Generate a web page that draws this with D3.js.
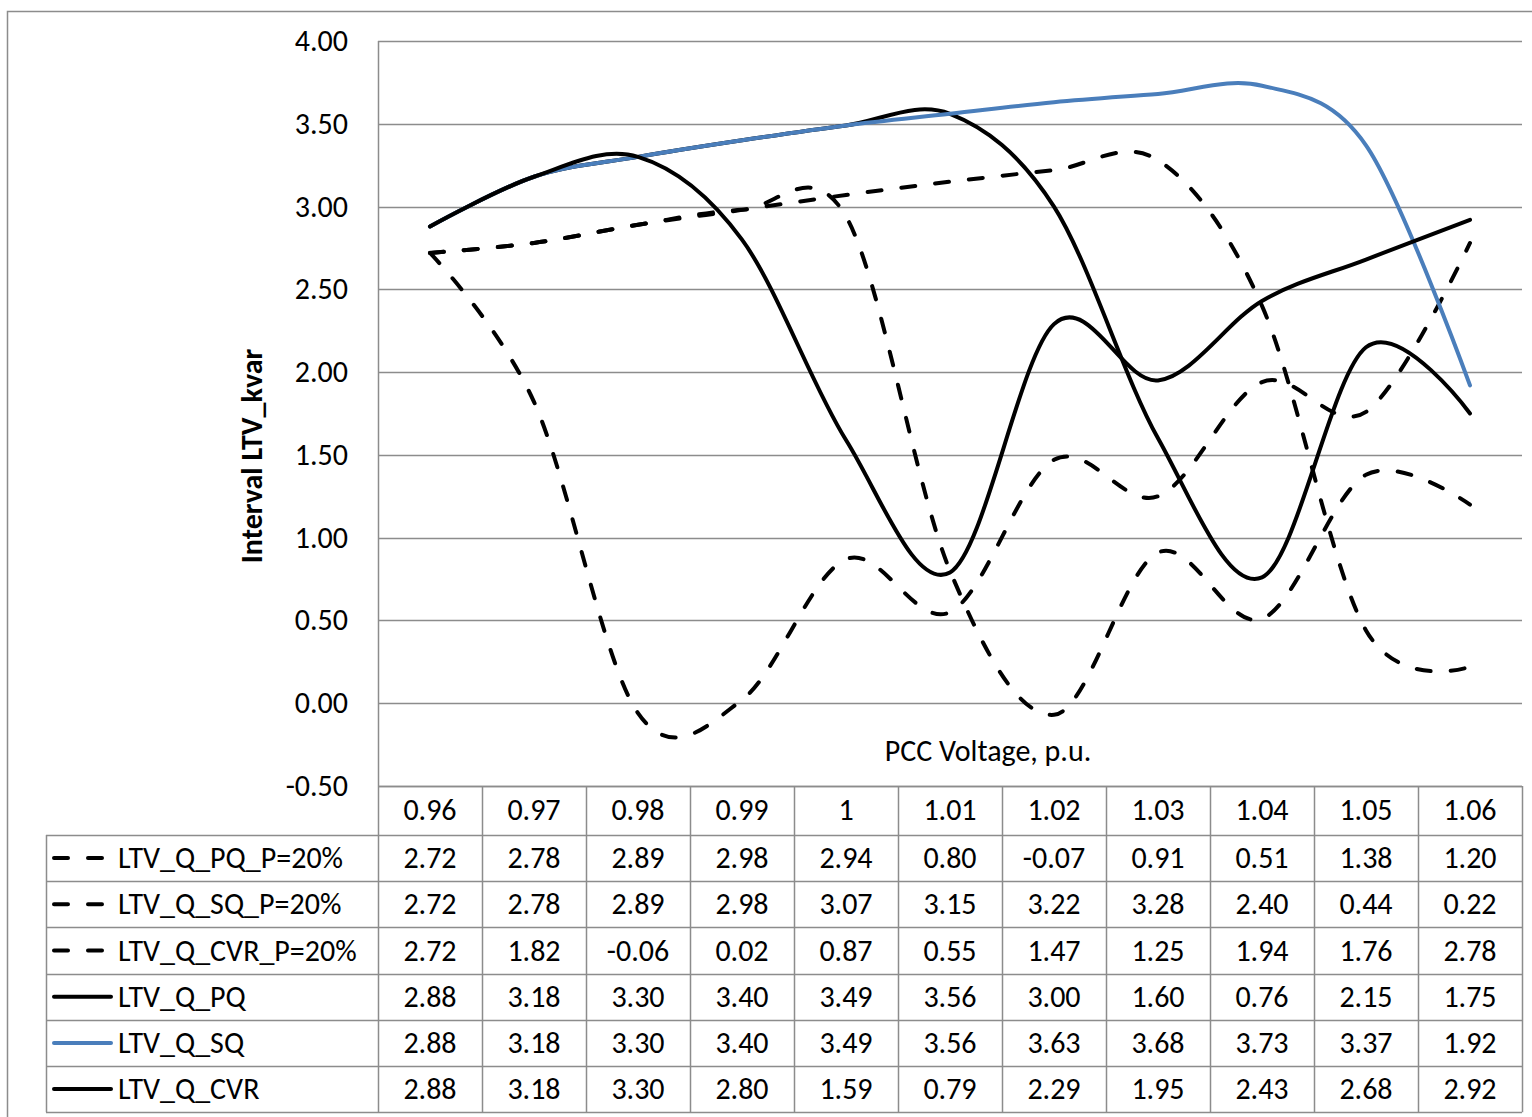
<!DOCTYPE html>
<html>
<head>
<meta charset="utf-8">
<script src="https://cdn.jsdelivr.net/npm/d3@7"></script>
<style>
body { margin: 0; background: #fff; }
text { font-family: Carlito, "Noto Sans", sans-serif; fill: #000; }
</style>
</head>
<body>
<div id="chart"></div>
<script>
var categories = ["0.96","0.97","0.98","0.99","1","1.01","1.02","1.03","1.04","1.05","1.06"];
var seriesNames = ["LTV_Q_PQ_P=20%","LTV_Q_SQ_P=20%","LTV_Q_CVR_P=20%","LTV_Q_PQ","LTV_Q_SQ","LTV_Q_CVR"];
var pqP20  = [2.72,2.78,2.89,2.98,2.94,0.80,-0.07,0.91,0.51,1.38,1.20];
var sqP20  = [2.72,2.78,2.89,2.98,3.07,3.15,3.22,3.28,2.40,0.44,0.22];
var cvrP20 = [2.72,1.82,-0.06,0.02,0.87,0.55,1.47,1.25,1.94,1.76,2.78];
var pq     = [2.88,3.18,3.30,3.40,3.49,3.56,3.00,1.60,0.76,2.15,1.75];
var sq     = [2.88,3.18,3.30,3.40,3.49,3.56,3.63,3.68,3.73,3.37,1.92];
var cvr    = [2.88,3.18,3.30,2.80,1.59,0.79,2.29,1.95,2.43,2.68,2.92];
var yTicks = [-0.5,0,0.5,1,1.5,2,2.5,3,3.5,4];
var seriesColors = ["#000","#000","#000","#000","#4a7ebb","#000"];
var seriesDashed = [true,true,true,false,false,false];

(function () {
var width = 1532, height = 1117;
var fs = 30;
var svg = d3.select("#chart").append("svg")
  .attr("width", width).attr("height", height);

var allSeries = [pqP20, sqP20, cvrP20, pq, sq, cvr];
var fmt = function(d){ return d.toFixed(2) };

// outer chart border
svg.append("rect")
  .attr("x", 7.5).attr("y", 11.5)
  .attr("width", 1540).attr("height", 1120)
  .attr("fill", "none").attr("stroke", "#8c8c8c").attr("stroke-width", 1.5);

var left = 378, right = 1522, top = 41, bottom = 786;
var x = d3.scaleBand().domain(categories).range([left, right]);
var y = d3.scaleLinear().domain([-0.5, 4]).range([bottom, top]);

// gridlines
svg.selectAll(".grid").data(yTicks).enter().append("line")
  .attr("x1", left).attr("x2", right)
  .attr("y1", function(d){ return Math.round(y(d)) + 0.5 })
  .attr("y2", function(d){ return Math.round(y(d)) + 0.5 })
  .attr("stroke", "#8c8c8c").attr("stroke-width", 1.5);

svg.append("line")
  .attr("x1", left + 0.5).attr("x2", left + 0.5)
  .attr("y1", top).attr("y2", bottom)
  .attr("stroke", "#8c8c8c").attr("stroke-width", 1.5);

// y tick labels
svg.selectAll(".ytick").data(yTicks).enter().append("text")
  .attr("x", 348)
  .attr("y", function(d){ return y(d) + 10 })
  .attr("text-anchor", "end")
  .attr("font-size", fs)
  .text(fmt);

// axis titles
svg.append("text")
  .attr("transform", "translate(262,456) rotate(-90)")
  .attr("text-anchor", "middle")
  .attr("font-size", fs).attr("font-weight", "bold")
  .text("Interval LTV_kvar");

svg.append("text")
  .attr("x", 988).attr("y", 761)
  .attr("text-anchor", "middle")
  .attr("font-size", fs)
  .text("PCC Voltage, p.u.");

// lines
var line = d3.line()
  .x(function(d, i){ return x(categories[i]) + x.bandwidth() / 2 })
  .y(function(d){ return y(d) })
  .curve(d3.curveCardinal.tension(0));

svg.selectAll(".series").data(allSeries).enter().append("path")
  .attr("d", line)
  .attr("fill", "none")
  .attr("stroke", function(d, i){ return seriesColors[i] })
  .attr("stroke-width", 4)
  .attr("stroke-linecap", "round")
  .attr("stroke-linejoin", "round")
  .attr("stroke-dasharray", function(d, i){ return seriesDashed[i] ? "14,20" : null });

// data table
var rowH = 46.2, headTop = 786, headBot = 835;
var legLeft = 46;
var tbl = svg.append("g");
var tableBottom = headBot + 6 * rowH;

tbl.append("line").attr("x1", left).attr("x2", right).attr("y1", headTop + 0.5).attr("y2", headTop + 0.5);
d3.range(7).forEach(function(i){
  var yy = Math.round(headBot + i * rowH) + 0.5;
  tbl.append("line").attr("x1", legLeft).attr("x2", right).attr("y1", yy).attr("y2", yy);
});
tbl.append("line").attr("x1", legLeft + 0.5).attr("x2", legLeft + 0.5).attr("y1", headBot).attr("y2", tableBottom);
categories.forEach(function(c){
  var xx = Math.round(x(c)) + 0.5;
  tbl.append("line").attr("x1", xx).attr("x2", xx).attr("y1", headTop).attr("y2", tableBottom);
});
tbl.append("line").attr("x1", right + 0.5).attr("x2", right + 0.5).attr("y1", headTop).attr("y2", tableBottom);
tbl.selectAll("line").attr("stroke", "#8c8c8c").attr("stroke-width", 1.5);

// header labels
svg.selectAll(".cat").data(categories).enter().append("text")
  .attr("x", function(d){ return x(d) + x.bandwidth() / 2 })
  .attr("y", headBot - 15)
  .attr("text-anchor", "middle")
  .attr("font-size", fs)
  .text(function(d){ return d });

// rows
allSeries.forEach(function(s, si){
  var cy = headBot + si * rowH + rowH / 2;
  svg.selectAll(".cell" + si).data(s).enter().append("text")
    .attr("x", function(d, i){ return x(categories[i]) + x.bandwidth() / 2 })
    .attr("y", cy + 10)
    .attr("text-anchor", "middle")
    .attr("font-size", fs)
    .text(fmt);

  svg.append("line")
    .attr("x1", 54).attr("x2", seriesDashed[si] ? 110 : 111)
    .attr("y1", cy).attr("y2", cy)
    .attr("stroke", seriesColors[si])
    .attr("stroke-width", 4)
    .attr("stroke-linecap", "round")
    .attr("stroke-dasharray", seriesDashed[si] ? "14,20" : null);

  svg.append("text")
    .attr("x", 118).attr("y", cy + 10)
    .attr("font-size", fs)
    .text(seriesNames[si]);
});

})();
</script>
</body>
</html>
